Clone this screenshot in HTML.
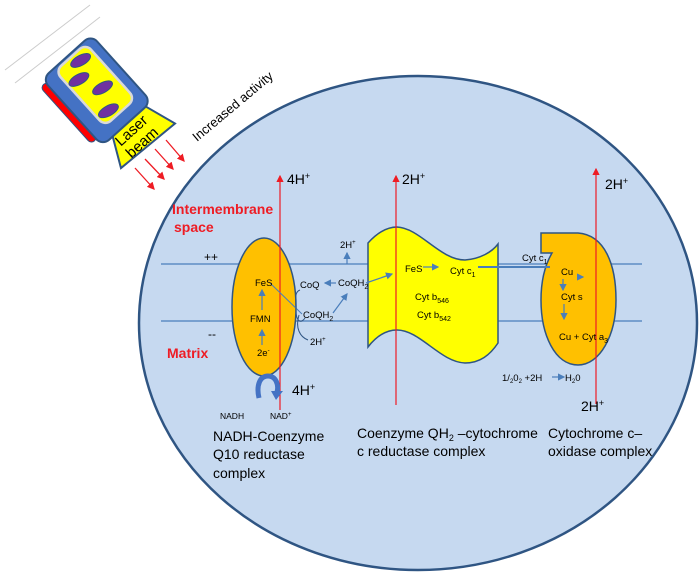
<!DOCTYPE html>
<html><head><style>
html,body{margin:0;padding:0;background:#fff;}
svg{display:block;font-family:"Liberation Sans",Arial,sans-serif;}
</style></head><body>
<svg width="700" height="574" viewBox="0 0 700 574" xmlns="http://www.w3.org/2000/svg">
<defs>
<marker id="ar" markerWidth="6" markerHeight="6" refX="5" refY="3" orient="auto"><path d="M0,0 L6,3 L0,6 z" fill="#ee1c24"/></marker>
<marker id="ab" markerWidth="6" markerHeight="6" refX="5" refY="3" orient="auto"><path d="M0,0 L6,3 L0,6 z" fill="#4a7ebb"/></marker>
</defs>
<line x1="5" y1="70" x2="90" y2="5" stroke="#ccc" stroke-width="1"/>
<line x1="15" y1="83" x2="100" y2="17" stroke="#ccc" stroke-width="1"/>
<ellipse cx="418" cy="323" rx="279" ry="247" fill="#c6d9f0" stroke="#2f5583" stroke-width="2.5"/>
<!-- laser -->
<g transform="translate(96,91) rotate(48)">
 <polygon points="43,-26 43,17 74,33 77,-37" fill="#ffff00" stroke="#2f5583" stroke-width="2"/>
 <rect x="-40" y="30" width="76" height="9" rx="4.5" fill="#ff0000" stroke="#2f5583" stroke-width="1"/>
 <rect x="-45" y="-34" width="90" height="66" rx="9" fill="#4472c4" stroke="#2f5583" stroke-width="2"/>
 <rect x="-42" y="-24" width="74" height="41" rx="8" fill="#ffff00" stroke="#d9d9d9" stroke-width="2.5"/>
 <ellipse cx="-33" cy="-9" rx="5" ry="11" fill="#7030a0" stroke="#2f5583" transform="rotate(13,-33,-9)"/>
 <ellipse cx="-20" cy="5" rx="5" ry="11" fill="#7030a0" stroke="#2f5583" transform="rotate(13,-20,5)"/>
 <ellipse cx="2" cy="-7" rx="5" ry="11" fill="#7030a0" stroke="#2f5583" transform="rotate(13,2,-7)"/>
 <ellipse cx="23" cy="4" rx="5" ry="11" fill="#7030a0" stroke="#2f5583" transform="rotate(13,23,4)"/>
 <g transform="rotate(-90)"><text x="-19" y="58" font-size="15">Laser</text><text x="-19" y="74" font-size="15">beam</text></g>
</g>
<text transform="translate(197,142) rotate(-40)" font-size="13">Increased activity</text>
<g stroke="#ee1c24" stroke-width="1.3" marker-end="url(#ar)">
<line x1="166" y1="140" x2="184" y2="161"/><line x1="155" y1="149" x2="173" y2="169"/>
<line x1="145" y1="159" x2="164" y2="179"/><line x1="135" y1="168" x2="154" y2="189"/>
</g>
<line x1="161" y1="264" x2="642" y2="264" stroke="#4a7ebb" stroke-width="1.2"/>
<line x1="161" y1="321" x2="642" y2="321" stroke="#4a7ebb" stroke-width="1.2"/>
<ellipse cx="264" cy="307" rx="32" ry="69" fill="#ffc000" stroke="#2f5583" stroke-width="1.5"/>
<path d="M368,243 C378,232 388,227 397,227 C420,228 440,260 465,260 C480,259 492,252 498,244 L498,343 C490,355 480,363 465,363 C440,362 420,330 397,330 C385,330 375,338 368,347 Z" fill="#ffff00" stroke="#2f5583" stroke-width="1.5"/>
<path d="M541,233 L578,233 C605,235 616,265 616,300 C616,335 600,365 578,365 C555,365 541,335 541,300 C541,280 545,265 552,253 L541,253 Z" fill="#ffc000" stroke="#2f5583" stroke-width="1.5"/>
<g stroke="#ee1c24" stroke-width="1.2" marker-end="url(#ar)">
<line x1="280" y1="410" x2="280" y2="176"/>
<line x1="396" y1="405" x2="396" y2="176"/>
<line x1="596" y1="404" x2="596" y2="169"/>
</g>
<g stroke="#4a7ebb" stroke-width="1.2" marker-end="url(#ab)" fill="none">
<line x1="262" y1="345" x2="262" y2="330"/>
<line x1="262" y1="310" x2="262" y2="290"/>
<line x1="336" y1="283" x2="325" y2="283"/>
<line x1="347" y1="264" x2="347" y2="253"/>
<line x1="333" y1="313" x2="347" y2="294"/>
<line x1="366" y1="283" x2="392" y2="274"/>
<line x1="423" y1="267" x2="438" y2="267"/>
<line x1="577" y1="277" x2="583" y2="277"/>
<line x1="563" y1="279" x2="563" y2="290"/>
<line x1="564" y1="304" x2="564" y2="319"/>
<line x1="552" y1="377" x2="564" y2="377"/>
</g>
<line x1="478" y1="267" x2="550" y2="267" stroke="#4a7ebb" stroke-width="2"/>
<line x1="270" y1="283" x2="302" y2="314" stroke="#4a7ebb" stroke-width="1"/>
<path d="M300,290 C294,292 296,300 296,310 C296,320 300,325 305,318" stroke="#2f5583" fill="none" stroke-width="1"/>
<path d="M299,315 C295,328 300,337 308,340" stroke="#2f5583" fill="none" stroke-width="1"/>
<path d="M259,398 C256,385 260,376 268,376 C276,376 279,385 277,392" stroke="#4472c4" stroke-width="5" fill="none"/>
<path d="M271,391 L283,391 L276,400 Z" fill="#4472c4"/>
<g font-size="14" font-weight="bold" fill="#ee1c24">
<text x="172" y="214">Intermembrane</text><text x="174" y="232">space</text>
<text x="167" y="358">Matrix</text>
</g>
<g font-size="12">
<text x="204" y="261">++</text><text x="208" y="338">--</text>
</g>
<g font-size="14">
<text x="287" y="184">4H<tspan font-size="9" dy="-5">+</tspan></text>
<text x="402" y="184">2H<tspan font-size="9" dy="-5">+</tspan></text>
<text x="605" y="189">2H<tspan font-size="9" dy="-5">+</tspan></text>
<text x="292" y="395">4H<tspan font-size="9" dy="-5">+</tspan></text>
<text x="581" y="411">2H<tspan font-size="9" dy="-5">+</tspan></text>
</g>
<g font-size="9.5">
<text x="255" y="286">FeS</text><text x="250" y="322">FMN</text><text x="257" y="356">2e<tspan font-size="6" dy="-4">-</tspan></text>
<text x="300" y="288">CoQ</text>
<text x="303" y="318">CoQH<tspan font-size="7" dy="3">2</tspan></text>
<text x="338" y="286">CoQH<tspan font-size="7" dy="3">2</tspan></text>
<text x="340" y="248">2H<tspan font-size="6" dy="-4">+</tspan></text>
<text x="310" y="345">2H<tspan font-size="6" dy="-4">+</tspan></text>
<text x="405" y="272">FeS</text>
<text x="450" y="274">Cyt c<tspan font-size="7" dy="3">1</tspan></text>
<text x="415" y="300">Cyt b<tspan font-size="7" dy="3">546</tspan></text>
<text x="417" y="318">Cyt b<tspan font-size="7" dy="3">542</tspan></text>
<text x="522" y="261">Cyt c<tspan font-size="7" dy="3">1</tspan></text>
<text x="561" y="275">Cu</text><text x="561" y="300">Cyt s</text>
<text x="559" y="340">Cu + Cyt a<tspan font-size="7" dy="3">3</tspan></text>
<text x="502" y="381">1/<tspan font-size="6" dy="2">2</tspan><tspan dy="-2">0</tspan><tspan font-size="6" dy="2">2</tspan><tspan dy="-2">  +2H</tspan></text>
<text x="565" y="381">H<tspan font-size="6" dy="2">2</tspan><tspan dy="-2">0</tspan></text>
</g>
<g font-size="8.5"><text x="220" y="419">NADH</text><text x="270" y="419">NAD<tspan font-size="6" dy="-3">+</tspan></text></g>
<g font-size="14">
<text x="213" y="441">NADH-Coenzyme</text><text x="213" y="459">Q10 reductase</text><text x="213" y="478">complex</text>
<text x="357" y="438">Coenzyme QH<tspan font-size="9" dy="3">2</tspan><tspan dy="-3"> –cytochrome</tspan></text>
<text x="357" y="456">c reductase complex</text>
<text x="548" y="438">Cytochrome c–</text><text x="548" y="456">oxidase complex</text>
</g>
</svg>
</body></html>
